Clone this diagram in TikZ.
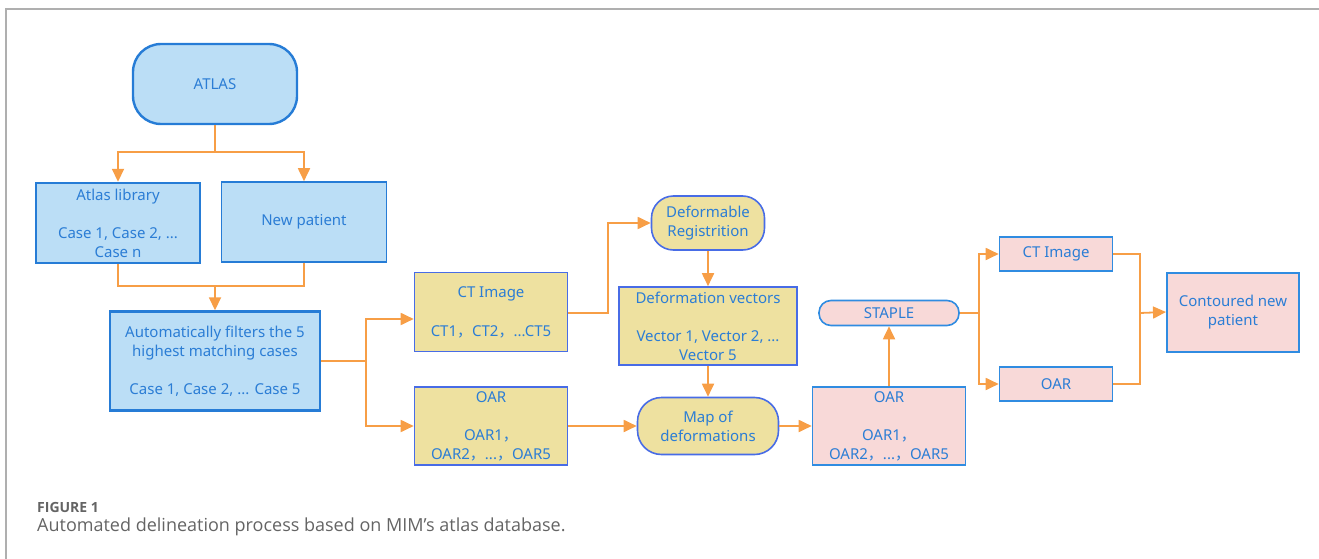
\documentclass[tikz,border=0pt]{standalone}
\usepackage{fontspec}
\setmainfont{Noto Sans}
\newfontfamily\capfont{Open Sans}
\newfontfamily\cjkfont{Noto Sans CJK SC}
\usetikzlibrary{arrows.meta, positioning}

\definecolor{txtblue}{RGB}{43,125,213}
\definecolor{bluefill}{RGB}{187,222,246}
\definecolor{blueline}{RGB}{38,124,214}
\definecolor{yelfill}{RGB}{238,225,160}
\definecolor{yelline}{RGB}{72,108,230}
\definecolor{pinkfill}{RGB}{248,217,216}
\definecolor{pinkline}{RGB}{48,140,225}
\definecolor{flow}{RGB}{247,158,70}
\definecolor{framegray}{RGB}{175,175,175}
\definecolor{capgray}{RGB}{100,100,100}

% full width comma
\newcommand{\fwc}{{\cjkfont ，}}

\begin{document}
\begin{tikzpicture}[
  x=1pt, y=-1pt,
  every node/.style={
    font=\fontsize{15}{19}\selectfont,
    text=txtblue,
    align=center,
    inner sep=0pt
  },
  bluebox/.style={
    rectangle,
    draw=blueline,
    line width=2pt,
    fill=bluefill
  },
  yelbox/.style={
    rectangle,
    draw=yelline,
    line width=1.6pt,
    fill=yelfill
  },
  pinkbox/.style={
    rectangle,
    draw=pinkline,
    line width=1.6pt,
    fill=pinkfill
  },
  link/.style={draw=flow, line width=1.8pt},
  arrow/.style={link, -{Triangle[length=13pt, width=12pt]}}
]

\useasboundingbox (0,0) rectangle (1319,559);

% page frame
\draw[framegray, line width=1.5pt] (1319,9) -- (6,9) -- (6,559);

% ============================================================
% Left: atlas and patient
% ============================================================

\node[bluebox, line width=2.4pt, rounded corners=28pt, minimum width=164pt, minimum height=80pt] (atlas) at (215,84) {ATLAS};

\node[bluebox, line width=2.4pt, minimum width=164pt, minimum height=80pt] (lib) at (118,223) {
Atlas library\\[19pt]
Case 1, Case 2, ...\\
Case n
};

\node[bluebox, line width=1.6pt, minimum width=165pt, minimum height=80pt] (newpt) at (304,222) {New patient};

\node[bluebox, line width=2.4pt, minimum width=210pt, minimum height=99pt] (filter) at (215,361) {
Automatically filters the 5\\
highest matching cases\\[19pt]
Case 1, Case 2, ... Case 5
};

\coordinate (split1) at (215,152);
\coordinate (merge1) at (215,286);

\draw[link] (atlas.south) -- (split1);
\draw[arrow] (split1) -| (lib.north);
\draw[arrow] (split1) -| (newpt.north);

\draw[link] (lib.south) |- (merge1);
\draw[link] (newpt.south) |- (merge1);
\draw[arrow] (merge1) -- (filter.north);

% ============================================================
% Middle: image, structures and registration
% ============================================================

\node[yelbox, minimum width=153pt, minimum height=79pt] (ctA) at (491,312) {
CT Image\\[20pt]
CT1\fwc CT2\fwc ...CT5
};

\node[yelbox, minimum width=153pt, minimum height=78pt] (oarA) at (491,426) {
OAR\\[19pt]
OAR1\fwc\\
OAR2\fwc ...\fwc OAR5
};

\node[yelbox, rounded corners=22pt, minimum width=113pt, minimum height=54pt] (defreg) at (708,223) {
Deformable\\
Registrition
};

\node[yelbox, minimum width=178pt, minimum height=78pt] (defvec) at (708,326) {
Deformation vectors\\[19pt]
Vector 1, Vector 2, ...\\
Vector 5
};

\node[yelbox, rounded corners=24pt, minimum width=141pt, minimum height=57pt] (mapdef) at (708,426) {
Map of\\
deformations
};

\coordinate (split2) at (366,361);

\draw[link] (filter.east |- split2) -- (split2);
\draw[arrow] (split2) |- ([yshift=-7pt]ctA.west);
\draw[arrow] (split2) |- (oarA.west);

\draw[arrow] ([yshift=-1pt]ctA.east) -- ++(40,0) |- (defreg.west);
\draw[arrow] (defreg.south) -- (defvec.north);
\draw[arrow] (defvec.south) -- (mapdef.north);
\draw[arrow] (oarA.east) -- (mapdef.west);

% ============================================================
% Right: label fusion and result
% ============================================================

\node[pinkbox, minimum width=153pt, minimum height=78pt] (oarB) at (889,426) {
OAR\\[19pt]
OAR1\fwc\\
OAR2\fwc ...\fwc OAR5
};

\node[pinkbox, rounded corners=12pt, minimum width=140pt, minimum height=25pt] (staple) at (889,313) {STAPLE};

\node[pinkbox, minimum width=113pt, minimum height=34pt] (ctB) at (1056,254) {CT Image};
\node[pinkbox, minimum width=113pt, minimum height=34pt] (oarC) at (1056,384) {OAR};

\node[pinkbox, line width=2pt, minimum width=132pt, minimum height=79pt] (contour) at (1233,312) {
Contoured new\\
patient
};

\coordinate (split3) at (979,313);
\coordinate (merge2) at (1140,313);

\draw[arrow] (mapdef.east) -- (oarB.west |- mapdef.east);
\draw[arrow] (oarB.north) -- (staple.south);

\draw[link] (staple.east) -- (split3);
\draw[arrow] (split3) |- (ctB.west);
\draw[arrow] (split3) |- (oarC.west);

\draw[link] (ctB.east) -| (merge2);
\draw[link] (oarC.east) -| (merge2);
\draw[arrow] (merge2) -- (contour.west);

% ============================================================
% Caption
% ============================================================

\node[anchor=west, text=capgray, font=\capfont\bfseries\fontsize{14}{16}\selectfont] (figlabel) at (37,507) {FIGURE 1};
\node[anchor=west, text=capgray, font=\capfont\fontsize{18}{21}\selectfont] (figtext) at (37,527) {Automated delineation process based on MIM’s atlas database.};

\end{tikzpicture}
\end{document}
